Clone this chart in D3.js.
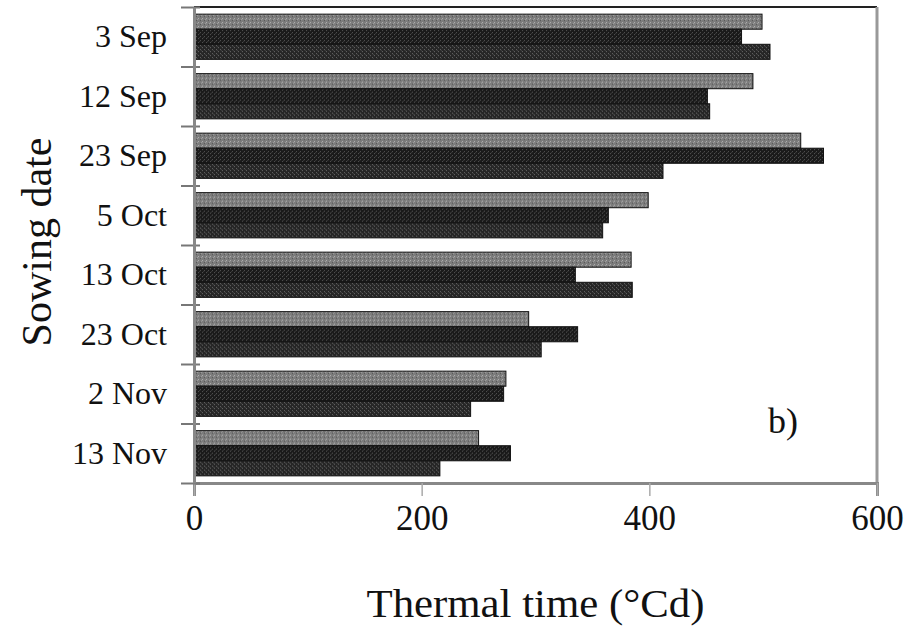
<!DOCTYPE html>
<html>
<head>
<meta charset="utf-8">
<script src="https://cdn.jsdelivr.net/npm/d3@7"></script>
<style>
  body { margin: 0; background: #fff; }
  text { font-family: "Liberation Serif", "DejaVu Serif", serif; fill: #111; }
</style>
</head>
<body>
<div id="chart"></div>
<script>
// sowing dates, top to bottom
const dates = ['3 Sep', '12 Sep', '23 Sep', '5 Oct', '13 Oct', '23 Oct', '2 Nov', '13 Nov'];
const seriesNames = ['s1', 's2', 's3'];
// thermal time (°Cd)
const s1 = [499, 491, 533, 399, 384, 294, 274, 250];
const s2 = [481, 451, 553, 364, 335, 337, 272, 278];
const s3 = [506, 453, 412, 359, 385, 305, 243, 216];
const xTicks = [0, 200, 400, 600];

const width = 923;
const height = 630;
const margin = { top: 7, right: 46, bottom: 147, left: 194 };
const plotW = width - margin.left - margin.right;
const plotH = height - margin.top - margin.bottom;

const svg = d3.select('#chart')
  .append('svg')
  .attr('width', width)
  .attr('height', height);

// fill patterns, like the scanned hatching
const defs = svg.append('defs');
function makePattern(id, base, dots) {
  const p = defs.append('pattern')
    .attr('id', id)
    .attr('width', 4)
    .attr('height', 4)
    .attr('patternUnits', 'userSpaceOnUse');
  p.append('rect').attr('width', 4).attr('height', 4).attr('fill', base);
  dots.forEach(d => {
    p.append('rect').attr('x', d[0]).attr('y', d[1]).attr('width', 1).attr('height', 1).attr('fill', d[2]);
  });
}
makePattern('p1', '#7c7c7c', [[0, 0, '#b4b4b4'], [2, 2, '#555'], [3, 1, '#a0a0a0']]);
makePattern('p2', '#1a1a1a', [[0, 0, '#555'], [2, 2, '#555'], [1, 3, '#3a3a3a']]);
makePattern('p3', '#262626', [[0, 1, '#666'], [2, 3, '#666'], [3, 0, '#444']]);
const fills = { s1: 'url(#p1)', s2: 'url(#p2)', s3: 'url(#p3)' };

const chart = svg.append('g')
  .attr('transform', `translate(${margin.left}, ${margin.top})`);

const x = d3.scaleLinear()
  .domain([0, 600])
  .range([0, plotW]);

const y0 = d3.scaleBand()
  .domain(dates)
  .range([0, plotH])
  .paddingInner(0.24)
  .paddingOuter(0.12);

const y1 = d3.scaleBand()
  .domain(seriesNames)
  .range([0, y0.bandwidth()]);

// boundaries between groups for the tick marks
const yTickScale = d3.scaleLinear()
  .domain([0, dates.length])
  .range([0, plotH]);

const rows = dates.map((d, i) => ({ date: d, s1: s1[i], s2: s2[i], s3: s3[i] }));

// frame top and right
chart.append('line')
  .attr('x1', 0).attr('x2', plotW)
  .attr('y1', 0).attr('y2', 0)
  .attr('stroke', '#222')
  .attr('stroke-width', 2);
chart.append('line')
  .attr('x1', plotW).attr('x2', plotW)
  .attr('y1', 0).attr('y2', plotH)
  .attr('stroke', '#999')
  .attr('stroke-width', 3);

const groups = chart.selectAll('.group')
  .data(rows)
  .enter()
  .append('g')
  .attr('class', 'group')
  .attr('transform', d => `translate(0, ${y0(d.date)})`);

groups.selectAll('rect')
  .data(d => seriesNames.map(k => ({ key: k, value: d[k] })))
  .enter()
  .append('rect')
  .attr('x', 0)
  .attr('y', d => y1(d.key))
  .attr('width', d => x(d.value))
  .attr('height', y1.bandwidth())
  .attr('fill', d => fills[d.key])
  .attr('stroke', '#111')
  .attr('stroke-width', 1);

// x axis
const xAxis = chart.append('g')
  .attr('class', 'x-axis')
  .attr('transform', `translate(0, ${plotH})`)
  .call(d3.axisBottom(x).tickValues(xTicks).tickSize(13).tickPadding(9).tickFormat(d3.format('d')));
xAxis.select('.domain').attr('stroke', '#888').attr('stroke-width', 3);
xAxis.selectAll('.tick line').attr('stroke', '#aaa').attr('stroke-width', 1.5);
xAxis.selectAll('.tick text')
  .style('font-size', '35px')
  .attr('fill', '#111');

// y axis ticks at the group boundaries
const yTicksAxis = chart.append('g')
  .attr('class', 'y-ticks')
  .call(d3.axisLeft(yTickScale).ticks(dates.length).tickSize(13).tickFormat(''));
yTicksAxis.select('.domain').remove();
yTicksAxis.selectAll('.tick line')
  .attr('x2', -13)
  .attr('x1', 6)
  .attr('stroke', '#777')
  .attr('stroke-width', 2);

// y axis labels at group centres
const yAxis = chart.append('g')
  .attr('class', 'y-axis')
  .call(d3.axisLeft(y0).tickSize(0).tickPadding(27));
yAxis.select('.domain').attr('stroke', '#888').attr('stroke-width', 3);
yAxis.selectAll('.tick text')
  .style('font-size', '32px')
  .attr('fill', '#111');

// axis titles
svg.append('text')
  .attr('x', margin.left + plotW / 2)
  .attr('y', 617)
  .attr('text-anchor', 'middle')
  .attr('textLength', 338)
  .attr('lengthAdjust', 'spacingAndGlyphs')
  .style('font-size', '40px')
  .text('Thermal time (°Cd)');

svg.append('text')
  .attr('transform', `translate(51, ${margin.top + plotH / 2 - 3}) rotate(-90)`)
  .attr('text-anchor', 'middle')
  .style('font-size', '42px')
  .text('Sowing date');

// panel label
chart.append('text')
  .attr('x', 574)
  .attr('y', 426)
  .style('font-size', '36px')
  .text('b)');
</script>
</body>
</html>
